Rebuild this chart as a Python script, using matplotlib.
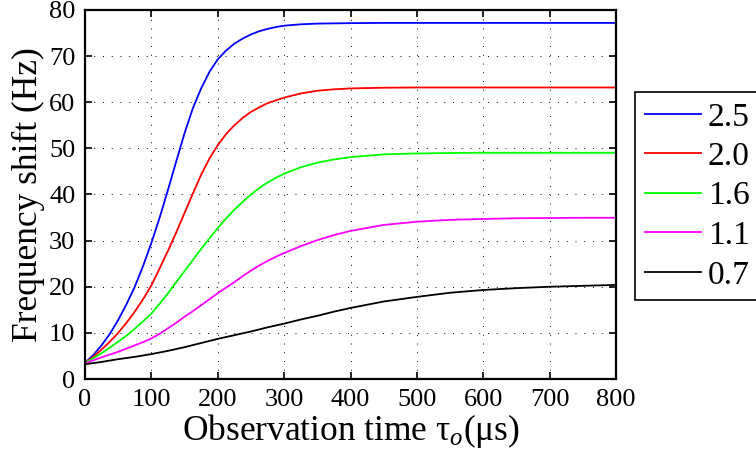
import matplotlib
matplotlib.use("Agg")
import matplotlib.pyplot as plt

plt.rcParams['font.family'] = ['Liberation Serif', 'DejaVu Serif']
plt.rcParams['mathtext.fontset'] = 'custom'
plt.rcParams['mathtext.rm'] = 'Liberation Serif'
plt.rcParams['mathtext.it'] = 'Liberation Serif:italic'

t = [0, 12.5, 25, 37.5, 50, 62.5, 75, 87.5, 100, 112.5, 125, 137.5, 150, 162.5,
     175, 187.5, 200, 212.5, 225, 237.5, 250, 262.5, 275, 287.5, 300,
     325, 350, 375, 400, 450, 500, 550, 600, 650, 700, 750, 800]

s25 = [3.5, 5.2, 7.3, 9.8, 12.8, 16.2, 20.0, 24.5, 29.5, 35.0, 41.0, 47.2, 53.3, 58.7,
       63.0, 66.6, 69.3, 71.2, 72.7, 73.8, 74.7, 75.4, 75.9, 76.3, 76.6,
       76.9, 77.05, 77.1, 77.15, 77.2, 77.2, 77.2, 77.2, 77.2, 77.2, 77.2, 77.2]
s20 = [3.5, 4.8, 6.4, 8.1, 10.0, 12.2, 14.6, 17.3, 20.3, 24.0, 27.8, 31.8, 36.0, 40.2,
       44.3, 47.8, 50.7, 53.1, 55.0, 56.6, 57.9, 58.9, 59.8, 60.4, 61.0,
       61.9, 62.5, 62.8, 63.0, 63.15, 63.2, 63.2, 63.2, 63.2, 63.2, 63.2, 63.2]
s16 = [3.5, 4.5, 5.6, 6.8, 8.1, 9.4, 10.9, 12.5, 14.2, 16.3, 18.6, 21.0, 23.4, 25.8,
       28.2, 30.5, 32.7, 34.8, 36.7, 38.4, 40.0, 41.4, 42.6, 43.6, 44.5,
       45.9, 46.9, 47.6, 48.1, 48.7, 48.9, 49.0, 49.05, 49.05, 49.05, 49.05, 49.05]
s11 = [3.4, 4.05, 4.7, 5.3, 5.9, 6.6, 7.3, 8.0, 8.8, 9.8, 11.0, 12.2, 13.5, 14.7,
       16.0, 17.3, 18.6, 19.8, 21.0, 22.3, 23.5, 24.6, 25.6, 26.5, 27.3,
       28.8, 30.1, 31.2, 32.1, 33.4, 34.1, 34.5, 34.7, 34.85, 34.9, 34.95, 34.95]
s07 = [3.2, 3.45, 3.7, 4.0, 4.3, 4.55, 4.8, 5.1, 5.4, 5.75, 6.1, 6.5, 6.9, 7.35,
       7.8, 8.25, 8.7, 9.1, 9.5, 9.9, 10.3, 10.75, 11.2, 11.6, 12.0,
       12.9, 13.7, 14.6, 15.4, 16.8, 17.8, 18.7, 19.3, 19.7, 20.0, 20.2, 20.4]

series = [s25, s20, s16, s11, s07]
labels = ['2.5', '2.0', '1.6', '1.1', '0.7']
colors = ['#0000ff', '#ff0000', '#00ff00', '#ff00ff', '#000000']

xticks = [0, 100, 200, 300, 400, 500, 600, 700, 800]
yticks = [0, 10, 20, 30, 40, 50, 60, 70, 80]

fig = plt.figure(figsize=(7.56, 4.65), dpi=100)
ax = fig.add_axes([85/756, 1-379/465, (616-85)/756, (379-10)/465])

for s, lab, c in zip(series, labels, colors):
    ax.plot(t, s, color=c, lw=1.3, label=lab)

ax.set_xlim(0, 800)
ax.set_ylim(0, 80)
ax.set_xticks(xticks)
ax.set_yticks(yticks)
ax.grid(True, color='black', linestyle=(0, (1, 8)), linewidth=0.7)
ax.tick_params(direction='in', length=5, width=1.2, top=True, right=True,
               labelsize=19, pad=7)
for sp in ax.spines.values():
    sp.set_linewidth(1.6)

ax.set_xlabel(r'Observation time τ$_{o}$(μs)', fontsize=25.5, labelpad=1)
ax.set_ylabel('Frequency shift (Hz)', fontsize=25.5, labelpad=3)

leg = ax.legend(loc='upper left', bbox_to_anchor=(635/756, 1-92/465),
                bbox_transform=fig.transFigure, fontsize=24, frameon=True,
                fancybox=False, framealpha=1, edgecolor='black',
                handlelength=1.68, handletextpad=0.2, labelspacing=0.27,
                borderpad=0.3, borderaxespad=0)
leg.get_frame().set_linewidth(1.2)

fig.savefig('out.png', dpi=100)
